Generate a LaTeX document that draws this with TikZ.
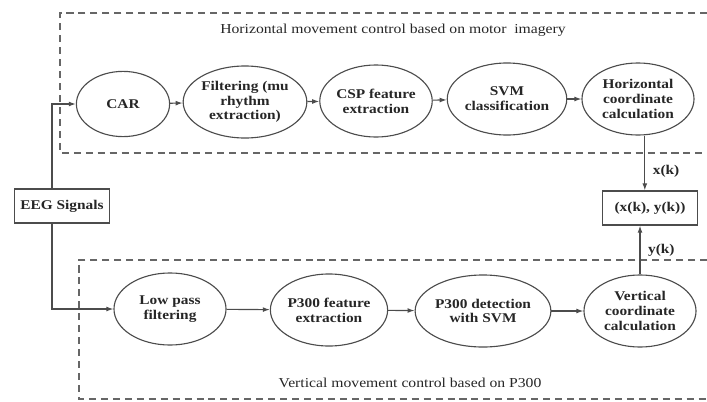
\documentclass[tikz,border=0pt]{standalone}
\usepackage{fontspec}
\setmainfont{Liberation Serif}[FakeStretch=1.15]
\usepackage{tikz}
\usetikzlibrary{positioning, arrows.meta, shapes.geometric}

\begin{document}
\begin{tikzpicture}[x=0.025cm, y=-0.025cm,
    every node/.style={font=\fontsize{9.5}{10.5}\selectfont\bfseries, text=black!85},
    stage/.style={ellipse, draw=black!70, line width=0.8pt, minimum width=2.8cm, minimum height=1.8cm, inner sep=0pt, align=center},
    box/.style={rectangle, draw=black!70, line width=0.9pt, minimum height=0.85cm, align=center},
    flow/.style={draw=black!70, line width=0.8pt, -{Latex[length=5pt, width=3.5pt]}},
    zone/.style={draw=black!60, line width=0.9pt, dash pattern=on 5pt off 3.5pt}]
    \useasboundingbox (0,0) rectangle (707,401);
    % dashed regions
    \draw[zone] (707,13) -- (60,13) -- (60,153) -- (707,153);
    \draw[zone] (707,260) -- (79,260) -- (79,399) -- (707,399);
    \node[font=\fontsize{9.7}{10.5}\selectfont] (htitle) at (393,30) {Horizontal movement control based on motor\ \ imagery};
    \node[font=\fontsize{9.7}{10.5}\selectfont] (vtitle) at (410,383) {Vertical movement control based on P300};
    % motor imagery branch
    \node[stage, minimum width=2.33cm, minimum height=1.63cm] (car) at (123,104) {CAR};
    \node[stage] (filt) at (245,102) {Filtering (mu\\rhythm\\extraction)};
    \node[stage] (csp) at (376,101) {CSP feature\\extraction};
    \node[stage] (svm) at (507,99) {SVM\\classification};
    \node[stage] (horz) at (638,99) {Horizontal\\coordinate\\calculation};
    % P300 branch
    \node[stage] (low) at (170,309) {Low pass\\filtering};
    \node[stage] (feat) at (329,310) {P300 feature\\extraction};
    \node[stage] (det) at (483,311) {P300 detection\\with SVM};
    \node[stage] (vert) at (640,311) {Vertical\\coordinate\\calculation};
    % boxes
    \node[box, minimum width=2.37cm] (eeg) at (62,206) {EEG Signals};
    \node[box, minimum width=2.37cm] (res) at (650,208) {(x(k), y(k))};
    % connectors
    \draw[flow] ([xshift=-0.25cm]eeg.north) |- (car);
    \draw[flow] ([xshift=-0.25cm]eeg.south) |- (low);
    \foreach \a/\b in {car/filt, filt/csp, csp/svm, svm/horz, low/feat, feat/det, det/vert}
        \draw[flow] (\a) -- (\b);
    \draw[flow] ([xshift=0.17cm]horz.south) -- ([xshift=0.17cm]horz.south |- res.north) node[pos=0.65, right=2pt] (xk) {x(k)};
    \draw[flow] (vert.north) -- (vert.north |- res.south) node[midway, right=2pt] (yk) {y(k)};
\end{tikzpicture}
\end{document}
